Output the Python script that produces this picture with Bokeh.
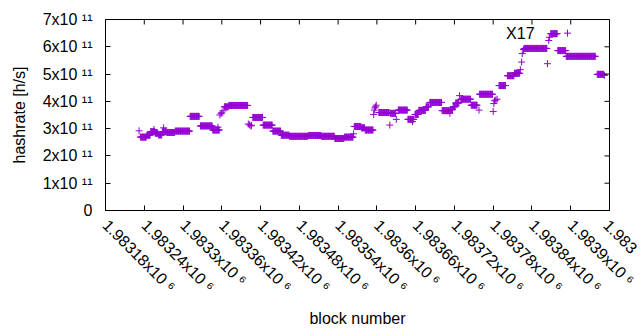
import math
import numpy as np
from bokeh.plotting import figure
from bokeh.models import Range1d, FixedTicker, Title, Label
from bokeh.embed import file_html
from bokeh.resources import INLINE

# ---- data ----
# constant-hashrate runs: first block, last block, hashrate (h/s)
seg_start = [1983234, 1983244, 1983250, 1983257, 1983262, 1983268, 1983275, 1983288,
             1983311, 1983327, 1983346, 1983364, 1983371, 1983408, 1983424, 1983439,
             1983452, 1983465, 1983494, 1983514, 1983535, 1983550, 1983565, 1983576,
             1983582, 1983603, 1983621, 1983633, 1983648, 1983659, 1983665, 1983676,
             1983682, 1983701, 1983714, 1983718, 1983722, 1983730, 1983746, 1983759,
             1983789, 1983802, 1983813, 1983828, 1983869, 1983880, 1983893, 1983941]
seg_end = [1983243, 1983249, 1983256, 1983261, 1983267, 1983274, 1983287, 1983310,
           1983325, 1983345, 1983356, 1983370, 1983400, 1983423, 1983438, 1983451,
           1983464, 1983493, 1983513, 1983534, 1983549, 1983563, 1983575, 1983581,
           1983594, 1983619, 1983629, 1983647, 1983657, 1983664, 1983675, 1983680,
           1983700, 1983712, 1983717, 1983721, 1983727, 1983745, 1983755, 1983779,
           1983799, 1983812, 1983821, 1983863, 1983879, 1983892, 1983938, 1983951]
seg_val = [2.69e11, 2.76e11, 2.89e11, 2.83e11, 2.77e11, 2.89e11, 2.86e11, 2.91e11,
           3.45e11, 3.10e11, 2.95e11, 3.80e11, 3.85e11, 3.41e11, 3.13e11, 2.91e11,
           2.76e11, 2.72e11, 2.75e11, 2.72e11, 2.64e11, 2.69e11, 3.08e11, 3.03e11,
           2.95e11, 3.59e11, 3.56e11, 3.68e11, 3.34e11, 3.52e11, 3.67e11, 3.80e11,
           3.96e11, 3.66e11, 3.70e11, 3.80e11, 3.94e11, 4.08e11, 3.86e11, 4.26e11,
           4.58e11, 4.94e11, 5.03e11, 5.94e11, 6.48e11, 5.86e11, 5.65e11, 4.99e11]

# single blocks
pt_block = [1983232, 1983255, 1983270, 1983354, 1983357, 1983359, 1983360, 1983362,
            1983401, 1983403, 1983405, 1983406, 1983564, 1983595, 1983596, 1983597,
            1983598, 1983599, 1983620, 1983630, 1983655, 1983713, 1983728, 1983758,
            1983780, 1983781, 1983782, 1983784, 1983786, 1983822, 1983824, 1983825,
            1983827, 1983864, 1983866, 1983867, 1983895, 1983952]
pt_val = [2.92e11, 2.97e11, 3.03e11, 3.05e11, 3.50e11, 3.56e11, 3.58e11, 3.65e11,
          3.17e11, 3.14e11, 3.10e11, 3.12e11, 2.81e11, 3.52e11, 3.68e11, 3.76e11,
          3.80e11, 3.86e11, 3.13e11, 3.34e11, 3.26e11, 3.56e11, 4.21e11, 3.68e11,
          3.63e11, 3.92e11, 4.02e11, 4.05e11, 4.08e11, 5.16e11, 5.44e11, 5.75e11,
          5.90e11, 5.38e11, 6.23e11, 6.35e11, 6.50e11, 4.95e11]

x_ticks = [1983180, 1983240, 1983300, 1983360, 1983420, 1983480, 1983540,
           1983600, 1983660, 1983720, 1983780, 1983840, 1983900, 1983960]
# the last label is cut by the picture's right edge in the reference
x_tick_labels = ["1.98318x10 ⁶", "1.98324x10 ⁶", "1.9833x10 ⁶", "1.98336x10 ⁶",
                 "1.98342x10 ⁶", "1.98348x10 ⁶", "1.98354x10 ⁶", "1.9836x10 ⁶",
                 "1.98366x10 ⁶", "1.98372x10 ⁶", "1.98378x10 ⁶", "1.98384x10 ⁶",
                 "1.9839x10 ⁶", "1.983"]
y_ticks = [0, 1e11, 2e11, 3e11, 4e11, 5e11, 6e11, 7e11]
y_tick_labels = ["0", "1x10 ¹¹", "2x10 ¹¹", "3x10 ¹¹", "4x10 ¹¹", "5x10 ¹¹",
                 "6x10 ¹¹", "7x10 ¹¹"]

note_text = "X17"
note_x = 1983800
note_y = 6.47e11

x_label = "block number"
y_label = "hashrate [h/s]"

# ---- build the scatter columns ----
xs = [np.arange(s, e + 1) for s, e in zip(seg_start, seg_end)]
ys = [np.full(e - s + 1, v) for s, e, v in zip(seg_start, seg_end, seg_val)]
x_all = np.concatenate(xs + [np.array(pt_block)])
y_all = np.concatenate(ys + [np.array(pt_val)])

FONT = "Liberation Sans"
FS = "16px"
COLOR = "#9400d3"

x_lo, x_hi = x_ticks[0], x_ticks[-1]
y_lo, y_hi = y_ticks[0], y_ticks[-1]

p = figure(width=640, height=330,
           x_range=Range1d(x_lo, x_hi), y_range=Range1d(y_lo, y_hi),
           output_backend="svg", toolbar_location=None,
           min_border_left=104, min_border_right=31, min_border_top=19,
           min_border_bottom=119)
p.background_fill_color = "white"
p.border_fill_color = "white"
p.outline_line_color = "black"
p.outline_line_width = 1
p.outline_line_alpha = 1
p.xgrid.visible = False
p.ygrid.visible = False

p.scatter(x_all, y_all, marker="cross", size=7, line_color=COLOR,
          line_width=1, fill_color=None)

# mirrored inward ticks on the top and right borders (half of each dash is
# clipped away by the frame, leaving a 5px inward tick)
p.scatter(x_ticks, [y_hi] * len(x_ticks), marker="dash", angle=math.pi / 2,
          size=10, line_color="black", line_width=1)
p.scatter([x_hi] * len(y_ticks), y_ticks, marker="dash", angle=0,
          size=10, line_color="black", line_width=1)

xt = FixedTicker(ticks=x_ticks)
yt = FixedTicker(ticks=y_ticks)

xa = p.xaxis[0]
xa.ticker = xt
xa.major_label_overrides = {t: l for t, l in zip(x_ticks, x_tick_labels)}
xa.major_label_orientation = -math.pi / 4
xa.axis_label = x_label

ya = p.yaxis[0]
ya.ticker = yt
ya.major_label_overrides = {t: l for t, l in zip(y_ticks, y_tick_labels)}

for ax in (xa, ya):
    ax.major_tick_in = 5
    ax.major_tick_out = 0
    ax.minor_tick_line_color = None
    ax.axis_line_color = "black"
    ax.major_tick_line_color = "black"
    ax.major_label_text_font = FONT
    ax.major_label_text_font_size = FS
    ax.major_label_text_color = "black"
    ax.axis_label_text_font = FONT
    ax.axis_label_text_font_size = FS
    ax.axis_label_text_font_style = "normal"
    ax.axis_label_text_color = "black"

xa.major_label_standoff = 12
xa.axis_label_standoff = 6
ya.major_label_standoff = 13

yl = Title(text=y_label, align="center", offset=-35, vertical_align="top",
           text_font=FONT, text_font_size=FS, text_font_style="normal",
           text_color="black", standoff=20)
p.add_layout(yl, "left")

p.add_layout(Label(x=note_x, y=note_y, text=note_text, text_font=FONT,
                   text_font_size=FS, text_color="black",
                   text_align="left", text_baseline="alphabetic"))

open("out.html", "w").write(file_html(p, INLINE))
